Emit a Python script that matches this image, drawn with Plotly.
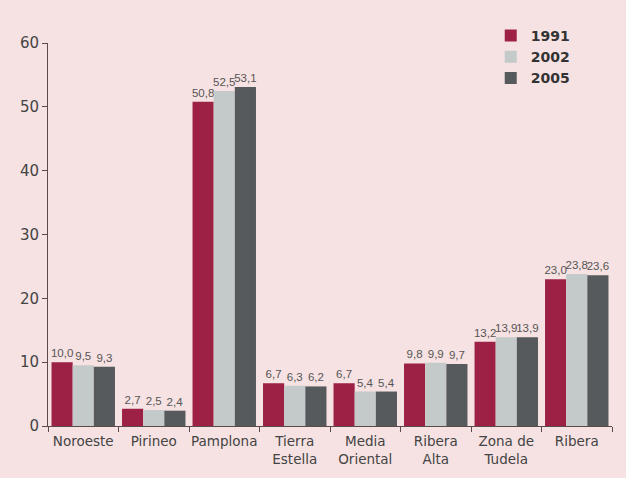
import plotly.graph_objects as go

comarcas = ["Noroeste", "Pirineo", "Pamplona", "Tierra<br>Estella", "Media<br>Oriental",
            "Ribera<br>Alta", "Zona de<br>Tudela", "Ribera"]
v1991 = [10.0, 2.7, 50.8, 6.7, 6.7, 9.8, 13.2, 23.0]
v2002 = [9.5, 2.5, 52.5, 6.3, 5.4, 9.9, 13.9, 23.8]
v2005 = [9.3, 2.4, 53.1, 6.2, 5.4, 9.7, 13.9, 23.6]
y_ticks = [0, 10, 20, 30, 40, 50, 60]

series = [("1991", v1991, "#9c2145"), ("2002", v2002, "#c4c9ca"), ("2005", v2005, "#565a5d")]
FONT = "DejaVu Sans, Arial, sans-serif"
LABEL_FONT = "Liberation Sans, Arial, sans-serif"

def fmt(v):
    return f"{v:.1f}".replace(".", ",")

fig = go.Figure()
for name, vals, col in series:
    fig.add_trace(go.Bar(
        name=name, x=comarcas, y=vals, marker_color=col, marker_line_width=0,
        text=[fmt(v) for v in vals], textposition="outside", cliponaxis=False,
        constraintext="none",
        textfont=dict(size=11.5, color="#555555", family=LABEL_FONT),
    ))

fig.update_layout(
    width=626, height=478,
    paper_bgcolor="#f6e2e2", plot_bgcolor="#f6e2e2",
    font=dict(family=FONT, color="#444444"),
    barmode="group", bargap=0.1, bargroupgap=0,
    margin=dict(l=48, r=14, t=43, b=52),
    showlegend=True,
    legend=dict(x=0.785, y=1.06, xanchor="left", yanchor="top", bgcolor="rgba(0,0,0,0)",
                font=dict(size=14, color="#333333", family=FONT, weight="bold"),
                itemwidth=30, tracegroupgap=0),
)
fig.update_yaxes(range=[0, 60], tickvals=y_ticks, showgrid=False, zeroline=False,
                 showline=True, linecolor="#5a4a4a", linewidth=1,
                 ticks="outside", ticklen=5, tickcolor="#5a4a4a", automargin=False,
                 tickfont=dict(size=15, color="#444444"))
fig.update_xaxes(range=[-0.5, 7.5], showgrid=False, showline=True, linecolor="#5a4a4a",
                 linewidth=1, ticks="outside", ticklen=5, tickcolor="#5a4a4a",
                 tickson="boundaries", tickangle=0, automargin=False, ticklabelstandoff=3,
                 tickfont=dict(size=13.5, color="#444444"))

fig.write_html("out.html")
